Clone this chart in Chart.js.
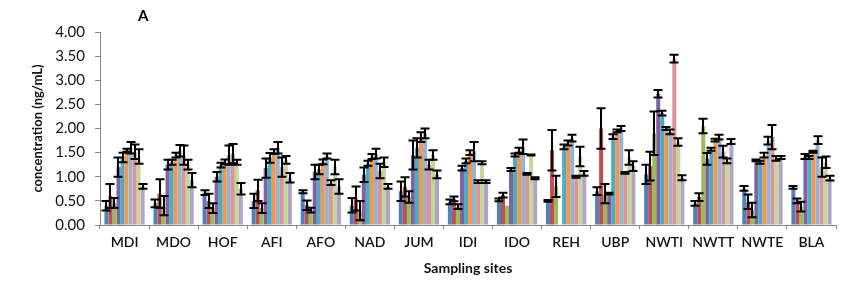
<!DOCTYPE html>
<html>
<head>
<meta charset="utf-8">
<script src="https://cdn.jsdelivr.net/npm/chart.js@4.4.0/dist/chart.umd.min.js"></script>
<style>
  body { margin: 0; background: #fff; }
  #wrap { width: 868px; height: 281px; }
</style>
</head>
<body>
<div id="wrap"><canvas id="chart" width="868" height="281"></canvas></div>
<script>
// sampling sites (x categories)
const sites = ["MDI", "MDO", "HOF", "AFI", "AFO", "NAD", "JUM", "IDI", "IDO", "REH", "UBP", "NWTI", "NWTT", "NWTE", "BLA"];
const yTicks = [0, 0.5, 1, 1.5, 2, 2.5, 3, 3.5, 4];

// mean concentration per series (10 series, one value per site)
const s1 = [0.40, 0.45, 0.67, 0.50, 0.69, 0.41, 0.70, 0.48, 0.52, 0.50, 0.70, 1.05, 0.45, 0.76, 0.78];
const s2 = [0.60, 0.65, 0.50, 0.72, 0.41, 0.55, 0.79, 0.54, 0.62, 1.55, 2.00, 1.22, 0.58, 0.48, 0.50];
const s3 = [0.46, 0.40, 0.35, 0.35, 0.31, 0.30, 0.58, 0.38, 0.40, 0.80, 0.65, 1.90, 2.05, 0.31, 0.38];
const s4 = [1.20, 1.25, 1.00, 1.18, 1.10, 1.04, 1.45, 1.18, 1.15, 0.00, 0.65, 2.72, 1.37, 1.34, 1.42];
const s5 = [1.40, 1.30, 1.24, 1.39, 1.15, 1.28, 1.60, 1.33, 1.45, 1.62, 1.83, 2.32, 1.57, 1.30, 1.40];
const s6 = [1.55, 1.45, 1.31, 1.52, 1.31, 1.42, 1.82, 1.50, 1.55, 1.70, 1.95, 2.00, 1.76, 1.45, 1.52];
const s7 = [1.60, 1.54, 1.45, 1.60, 1.43, 1.48, 1.90, 1.52, 1.62, 1.80, 2.00, 1.93, 1.82, 1.75, 1.76];
const s8 = [1.52, 1.45, 1.48, 1.20, 0.88, 1.12, 1.25, 0.90, 1.06, 1.00, 1.08, 3.45, 1.52, 1.82, 1.20];
const s9 = [1.42, 1.25, 1.30, 1.35, 1.20, 1.30, 1.45, 1.29, 1.45, 1.42, 1.40, 1.72, 1.33, 1.38, 1.30];
const s10 = [0.80, 0.93, 0.75, 0.98, 0.80, 0.80, 1.05, 0.90, 0.97, 1.07, 1.22, 0.98, 1.73, 1.40, 0.97];

// error (+/-) per series
const e1 = [0.10, 0.08, 0.05, 0.15, 0.03, 0.15, 0.20, 0.05, 0.03, 0.02, 0.08, 0.20, 0.05, 0.05, 0.03];
const e2 = [0.25, 0.30, 0.15, 0.22, 0.10, 0.25, 0.20, 0.05, 0.05, 0.42, 0.42, 0.30, 0.08, 0.15, 0.05];
const e3 = [0.10, 0.20, 0.10, 0.10, 0.05, 0.20, 0.12, 0.05, 0.00, 0.22, 0.20, 0.45, 0.15, 0.15, 0.10];
const e4 = [0.20, 0.10, 0.10, 0.20, 0.15, 0.15, 0.30, 0.05, 0.03, 0.00, 0.02, 0.08, 0.12, 0.02, 0.05];
const e5 = [0.10, 0.05, 0.05, 0.10, 0.10, 0.05, 0.20, 0.05, 0.03, 0.05, 0.05, 0.05, 0.03, 0.03, 0.03];
const e6 = [0.03, 0.05, 0.05, 0.05, 0.05, 0.05, 0.10, 0.05, 0.05, 0.05, 0.03, 0.03, 0.03, 0.05, 0.02];
const e7 = [0.12, 0.12, 0.20, 0.12, 0.05, 0.10, 0.10, 0.20, 0.15, 0.07, 0.05, 0.05, 0.05, 0.08, 0.08];
const e8 = [0.15, 0.20, 0.20, 0.20, 0.05, 0.15, 0.10, 0.03, 0.02, 0.02, 0.02, 0.08, 0.12, 0.25, 0.20];
const e9 = [0.15, 0.10, 0.05, 0.08, 0.15, 0.10, 0.10, 0.03, 0.01, 0.20, 0.15, 0.08, 0.05, 0.05, 0.12];
const e10 = [0.05, 0.15, 0.12, 0.10, 0.15, 0.05, 0.08, 0.03, 0.02, 0.05, 0.10, 0.05, 0.05, 0.03, 0.05];

const values = [s1, s2, s3, s4, s5, s6, s7, s8, s9, s10];
const errors = [e1, e2, e3, e4, e5, e6, e7, e8, e9, e10];
const colors = ["#4F81BD", "#C0504D", "#9BBB59", "#8064A2", "#4BACC6",
                "#F79646", "#95B3D7", "#D99694", "#C3D69B", "#B3A2C7"];

const FONT = "Lato, 'Open Sans', sans-serif";

// draws the +/- error bars on top of each bar
const errorBars = {
    id: "errorBars",
    afterDatasetsDraw(chart) {
        const ctx = chart.ctx;
        const y = chart.scales.y;
        ctx.save();
        ctx.strokeStyle = "#000";
        ctx.lineWidth = 2;
        chart.data.datasets.forEach(function (ds, i) {
            const meta = chart.getDatasetMeta(i);
            meta.data.forEach(function (bar, j) {
                const err = ds.errors[j];
                if (!err) return;
                const v = ds.data[j];
                const top = y.getPixelForValue(v + err);
                const bot = y.getPixelForValue(Math.max(v - err, 0));
                const x = Math.round(bar.x);
                ctx.beginPath();
                ctx.moveTo(x, top);
                ctx.lineTo(x, bot);
                ctx.moveTo(x - 4.5, top);
                ctx.lineTo(x + 4.5, top);
                ctx.moveTo(x - 4.5, bot);
                ctx.lineTo(x + 4.5, bot);
                ctx.stroke();
            });
        });
        ctx.restore();
    }
};

// panel letter in the top left
const panelLetter = {
    id: "panelLetter",
    afterDraw(chart) {
        const ctx = chart.ctx;
        ctx.save();
        ctx.fillStyle = "#000";
        ctx.font = "bold 15px " + FONT;
        ctx.textBaseline = "middle";
        ctx.fillText("A", 138, 16);
        ctx.restore();
    }
};

new Chart(document.getElementById("chart"), {
    type: "bar",
    data: {
        labels: sites,
        datasets: values.map(function (vals, i) {
            return {
                data: vals,
                errors: errors[i],
                backgroundColor: colors[i],
                borderWidth: 0,
                categoryPercentage: 0.82,
                barPercentage: 1.0
            };
        })
    },
    options: {
        responsive: false,
        animation: false,
        layout: { padding: { top: 32, right: 32, bottom: 0, left: 0 } },
        plugins: {
            legend: { display: false },
            tooltip: { enabled: false }
        },
        scales: {
            x: {
                afterFit: function (scale) { scale.height = 56; },
                grid: { drawOnChartArea: false, tickLength: 4, color: "#888" },
                border: { color: "#888", width: 1 },
                ticks: {
                    color: "#111",
                    padding: 5,
                    maxRotation: 0,
                    font: { family: FONT, size: 14, weight: "600" }
                },
                title: {
                    display: true,
                    text: "Sampling sites",
                    color: "#111",
                    padding: { top: 0, bottom: 4 },
                    font: { family: FONT, size: 14, weight: "bold" }
                }
            },
            y: {
                min: 0,
                max: 4,
                afterFit: function (scale) { scale.width = 100; },
                afterBuildTicks: function (scale) {
                    scale.ticks = yTicks.map(function (v) { return { value: v }; });
                },
                grid: { drawOnChartArea: false, tickLength: 5, color: "#888" },
                border: { color: "#888", width: 1 },
                ticks: {
                    color: "#111",
                    padding: 10,
                    font: { family: FONT, size: 15 },
                    callback: function (v) { return Number(v).toFixed(2); }
                },
                title: {
                    display: true,
                    text: "concentration (ng/mL)",
                    color: "#111",
                    padding: { top: 30, bottom: 0 },
                    font: { family: FONT, size: 13, weight: "bold" }
                }
            }
        }
    },
    plugins: [errorBars, panelLetter]
});
</script>
</body>
</html>
